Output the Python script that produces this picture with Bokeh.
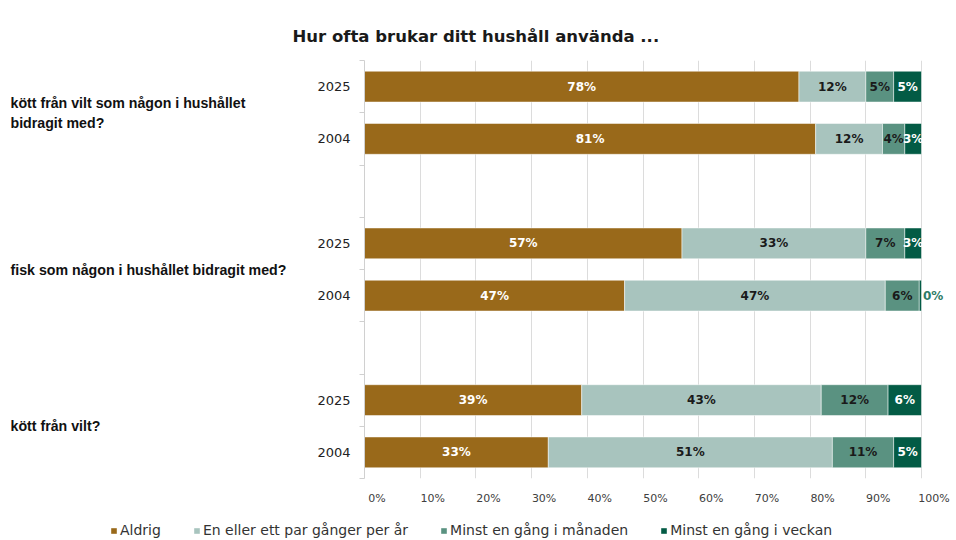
from bokeh.plotting import figure
from bokeh.models import (ColumnDataSource, Legend, LegendItem, FixedTicker, Range1d)
from bokeh.layouts import row, column
from bokeh.core.properties import value
from bokeh.embed import file_html
from bokeh.resources import INLINE

# ---- data ----
title_text = "Hur ofta brukar ditt hushåll använda ..."
groups = ["kött från vilt som någon i hushållet\nbidragit med?",
          "fisk som någon i hushållet bidragit med?",
          "kött från vilt?"]
years = ["2025", "2004"]
categories = ["Aldrig", "En eller ett par gånger per år",
              "Minst en gång i månaden", "Minst en gång i veckan"]
aldrig = [78, 81, 57, 46.7, 39, 33]
par_ggr_per_ar = [12, 12, 33, 46.8, 43, 51]
manaden = [5, 4, 7, 6.1, 12, 11]
veckan = [5, 3, 3, 0.4, 6, 5]
x_ticks = [0, 10, 20, 30, 40, 50, 60, 70, 80, 90, 100]

colors = ["#99691A", "#A8C4BE", "#5A9281", "#035B45"]
label_colors = ["#FFFFFF", "#1A1A1A", "#1A1A1A", "#FFFFFF"]
FONT = "DejaVu Sans"
FONT2 = "Liberation Sans"

series = [aldrig, par_ggr_per_ar, manaden, veckan]

# slot layout: each group has 2 rows + 1 blank slot
n_slots = len(groups) * 3 - 1
row_y, row_year = [], []
for gi in range(len(groups)):
    for yi in range(len(years)):
        row_y.append(n_slots - (gi * 3 + yi) - 0.5)
        row_year.append(years[yi])
group_y = [n_slots - gi * 3 - 1.0 for gi in range(len(groups))]

# ---- geometry (pixels) ----
TOTAL_W, TOTAL_H = 952, 538
TOP, BOTTOM = 60, 24
FRAME_H = 423
H = TOP + FRAME_H + BOTTOM
LEFT_W = 290
FRAME_LEFT = 364
PX_PER_UNIT = 5.57
MAIN_W = TOTAL_W - LEFT_W
x_end = (MAIN_W - (FRAME_LEFT - LEFT_W)) / PX_PER_UNIT
label_shift = 12.5 / PX_PER_UNIT

y_range = Range1d(0, n_slots)

# ---- left figure: group labels ----
pl = figure(width=LEFT_W, height=H, x_range=Range1d(0, LEFT_W), y_range=y_range,
            output_backend="svg", toolbar_location=None,
            min_border_left=0, min_border_right=0, min_border_top=TOP, min_border_bottom=BOTTOM)
pl.axis.visible = False
pl.grid.visible = False
pl.outline_line_color = None
pl.text(x=[10] * len(groups), y=group_y, text=groups, text_align="left", text_baseline="middle",
        text_font=value(FONT2), text_font_size="14.2px", text_font_style="bold",
        text_color="#111111", text_line_height=1.25)

# ---- main figure ----
p = figure(width=MAIN_W, height=H, x_range=Range1d(0, x_end), y_range=y_range,
           output_backend="svg", toolbar_location=None, title=title_text,
           min_border_left=FRAME_LEFT - LEFT_W, min_border_right=0,
           min_border_top=TOP, min_border_bottom=BOTTOM)
p.outline_line_color = None
p.title.text_font = FONT
p.title.text_font_size = "16.5px"
p.title.text_font_style = "bold"
p.title.text_color = "#1A1A1A"
p.title.align = "left"
p.title.offset = 292 - FRAME_LEFT
p.title.vertical_align = "top"
p.title.standoff = 26

lefts = [0.0] * len(row_y)
lab_x, lab_y, lab_t, lab_c, lab_a = [], [], [], [], []
for ci, vals in enumerate(series):
    rights = [l + v for l, v in zip(lefts, vals)]
    src = ColumnDataSource(dict(y=row_y, left=lefts, right=rights))
    p.hbar(y="y", left="left", right="right", height=0.59, source=src,
           fill_color=colors[ci], line_color="white", line_width=0.5)
    for yv, l, v in zip(row_y, lefts, vals):
        lab_t.append(f"{round(v)}%")
        lab_y.append(yv)
        if v < 1:
            lab_x.append(l + v + 0.25)
            lab_c.append("#2E7B67")
            lab_a.append("left")
        else:
            lab_x.append(l + v / 2)
            lab_c.append(label_colors[ci])
            lab_a.append("center")
    lefts = rights

lsrc = ColumnDataSource(dict(x=lab_x, y=lab_y, t=lab_t, c=lab_c, a=lab_a))
p.text(x="x", y="y", text="t", source=lsrc, text_color="c", text_align="a",
       text_baseline="middle", text_font_size="12px", text_font_style="bold",
       text_font=value(FONT))

# x axis: labels sit just right of their gridline
p.extra_x_ranges = {"lab": Range1d(-label_shift, x_end - label_shift)}
xa = p.xaxis[0]
xa.x_range_name = "lab"
xa.ticker = FixedTicker(ticks=x_ticks)
xa.major_label_overrides = {t: f"{t}%" for t in x_ticks}
xa.axis_line_color = None
xa.major_tick_line_color = None
xa.minor_tick_line_color = None
xa.major_label_text_font = FONT
xa.major_label_text_font_size = "11px"
xa.major_label_text_color = "#404040"
xa.major_label_standoff = 7

p.yaxis.ticker = FixedTicker(ticks=row_y, minor_ticks=[float(i) for i in range(n_slots + 1)])
p.yaxis.major_label_overrides = {yv: yr for yv, yr in zip(row_y, row_year)}
p.yaxis.axis_line_color = "#D0D0D0"
p.yaxis.major_tick_line_color = None
p.yaxis.minor_tick_line_color = "#D0D0D0"
p.yaxis.minor_tick_out = 5
p.yaxis.minor_tick_in = 0
p.yaxis.major_label_text_font = FONT
p.yaxis.major_label_text_font_size = "13px"
p.yaxis.major_label_text_color = "#222222"
p.yaxis.major_label_standoff = 8

p.xgrid.ticker = FixedTicker(ticks=x_ticks)
p.xgrid.grid_line_color = "#DCDCDC"
p.ygrid.grid_line_color = None

# ---- legend figure ----
pg = figure(width=TOTAL_W, height=TOTAL_H - H, x_range=Range1d(0, 1), y_range=Range1d(0, 1),
            output_backend="svg", toolbar_location=None,
            min_border_left=0, min_border_right=0, min_border_top=0, min_border_bottom=0)
pg.axis.visible = False
pg.grid.visible = False
pg.outline_line_color = None
items = []
for ci, cat in enumerate(categories):
    # legend proxy, kept outside the visible range
    rr = pg.hbar(y=[-5], left=[0], right=[1], height=0.5, fill_color=colors[ci], line_color=None)
    items.append(LegendItem(label=cat, renderers=[rr]))
legend = Legend(items=items, orientation="horizontal", location=(110, 0),
                label_text_font=FONT, label_text_font_size="14px", label_text_color="#333333",
                glyph_width=7, glyph_height=7, label_standoff=3, spacing=32,
                border_line_color=None, background_fill_alpha=0, padding=2, margin=0)
pg.add_layout(legend, "center")

layout = column(row(pl, p), pg)
open("out.html", "w").write(file_html(layout, INLINE))
